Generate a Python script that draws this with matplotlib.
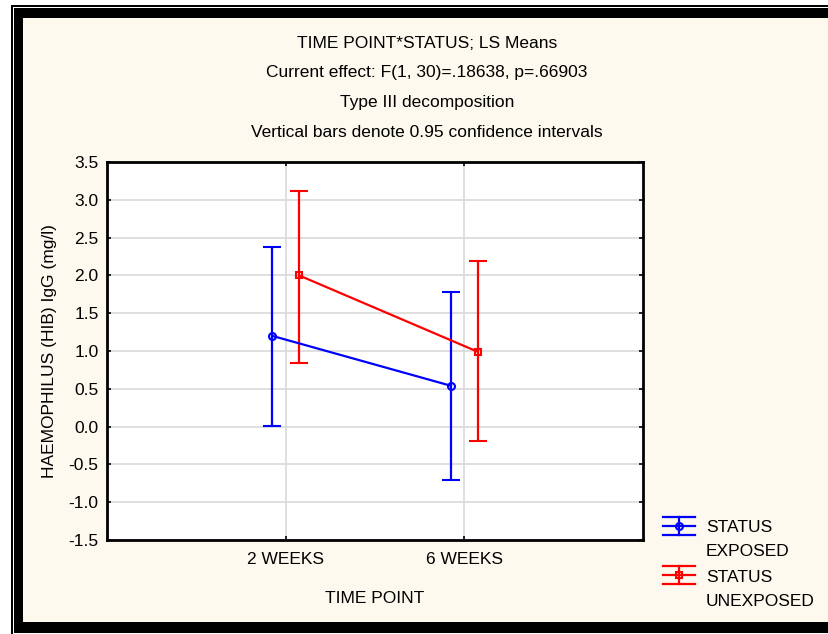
import matplotlib
matplotlib.use('Agg')
from matplotlib import pyplot as plt
from matplotlib.lines import Line2D
from matplotlib.patches import Rectangle

plt.rcParams['font.family'] = ['Liberation Sans', 'DejaVu Sans']

# data
time_points = ['2 WEEKS', '6 WEEKS']
exposed_mean = [1.20, 0.54]
exposed_low = [0.01, -0.70]
exposed_high = [2.38, 1.78]
unexposed_mean = [2.00, 0.99]
unexposed_low = [0.84, -0.19]
unexposed_high = [3.12, 2.19]
y_ticks = [-1.5, -1.0, -0.5, 0.0, 0.5, 1.0, 1.5, 2.0, 2.5, 3.0, 3.5]

fs = 12.5
cream = '#FDF9EE'
fig = plt.figure(figsize=(8.29, 6.34), dpi=100)
fig.patch.set_facecolor('white')
W, H = 829, 634

# frame: thin outer line, thick black border, cream inside
def px_rect(x0, y0, x1, y1, **kw):
    fig.patches.append(Rectangle((x0 / W, 1 - y1 / H), (x1 - x0) / W, (y1 - y0) / H,
                                 transform=fig.transFigure, zorder=-10, **kw))

px_rect(11, 5, 840, 640, facecolor='black', edgecolor='none')
px_rect(13, 7, 840, 640, facecolor='white', edgecolor='none')
px_rect(14, 8, 840, 633, facecolor='black', edgecolor='none')
px_rect(23, 18, 840, 622, facecolor=cream, edgecolor='none')

ax = fig.add_axes([107 / W, 1 - 540 / H, (643 - 107) / W, (540 - 162) / H])
ax.set_facecolor('white')

x = [1, 2]
off = 0.075
xe = [v - off for v in x]
xu = [v + off for v in x]

ax.errorbar(xe, exposed_mean,
            yerr=[[m - l for m, l in zip(exposed_mean, exposed_low)],
                  [h - m for m, h in zip(exposed_mean, exposed_high)]],
            color='#0000FF', lw=1.6, elinewidth=1.6, capsize=6.5, capthick=1.6,
            marker='o', ms=5, mfc='none', mec='#0000FF', mew=1.5, zorder=3)
ax.errorbar(xu, unexposed_mean,
            yerr=[[m - l for m, l in zip(unexposed_mean, unexposed_low)],
                  [h - m for m, h in zip(unexposed_mean, unexposed_high)]],
            color='#FF0000', lw=1.6, elinewidth=1.6, capsize=6.5, capthick=1.6,
            marker='s', ms=5, mfc='none', mec='#FF0000', mew=1.5, zorder=3)

ax.set_xlim(0, 3)
ax.set_ylim(-1.5, 3.5)
ax.set_xticks(x)
ax.set_xticklabels(time_points)
ax.set_yticks(y_ticks)
ax.set_yticklabels(['%.1f' % v for v in y_ticks])
ax.grid(True, color='#D9D9D9', lw=1.2)
ax.set_axisbelow(True)
ax.tick_params(direction='in', length=3, width=1.2, top=True, right=True,
               labelsize=fs, colors='black', pad=6)
ax.tick_params(axis='x', pad=9)
for s in ax.spines.values():
    s.set_linewidth(2)
    s.set_color('black')

ax.set_xlabel('TIME POINT', fontsize=fs, labelpad=17)
ax.set_ylabel('HAEMOPHILUS (HIB) IgG (mg/l)', fontsize=fs, labelpad=8)

titles = ['TIME POINT*STATUS; LS Means',
          'Current effect: F(1, 30)=.18638, p=.66903',
          'Type III decomposition',
          'Vertical bars denote 0.95 confidence intervals']
for i, t in enumerate(titles):
    fig.text(427 / W, 1 - (43 + 29.7 * i) / H, t, ha='center', va='center', fontsize=fs)

# legend drawn by hand
def legend_item(yc, color, marker, label):
    x0, x1 = 663, 695
    xm = (x0 + x1) / 2
    for dy in (-9, 0, 9):
        fig.lines.append(Line2D([x0 / W, x1 / W], [1 - (yc + dy) / H] * 2,
                                transform=fig.transFigure, color=color, lw=1.6))
    fig.lines.append(Line2D([xm / W] * 2, [1 - (yc - 9) / H, 1 - (yc + 9) / H],
                            transform=fig.transFigure, color=color, lw=1.6))
    fig.lines.append(Line2D([xm / W], [1 - yc / H], transform=fig.transFigure,
                            marker=marker, ms=5, mfc='none', mec=color, mew=1.5, lw=0))
    lines = label.split('\n')
    for j, s in enumerate(lines):
        fig.text(706 / W, 1 - (yc + 2 + 24 * j) / H, s, ha='left', va='center', fontsize=fs)

legend_item(526, '#0000FF', 'o', 'STATUS\nEXPOSED')
legend_item(575, '#FF0000', 's', 'STATUS\nUNEXPOSED')

fig.savefig('out.png', dpi=100, facecolor=fig.get_facecolor())
